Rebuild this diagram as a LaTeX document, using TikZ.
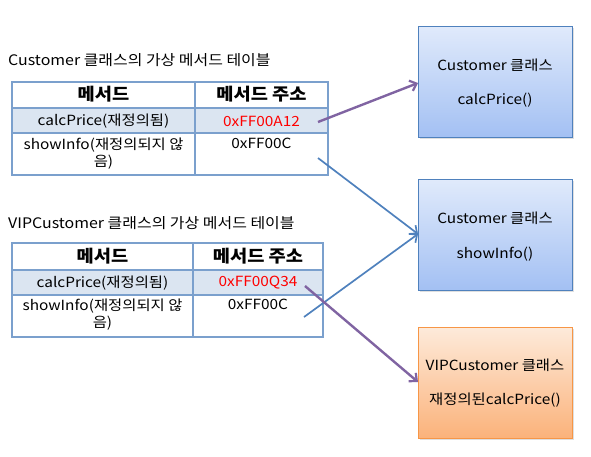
\documentclass[tikz,border=0pt]{standalone}
\usepackage{fontspec}
\setmainfont{Noto Sans CJK KR}[FakeStretch=1.1]
\usetikzlibrary{arrows.meta,shadows}
\definecolor{tblline}{HTML}{7BA0CD}
\definecolor{rowfill}{HTML}{DBE5F1}
\definecolor{purp}{HTML}{8064A2}
\definecolor{blu}{HTML}{4F81BD}
\definecolor{bluetop}{HTML}{E0EAFB}
\definecolor{bluebot}{HTML}{A3C0F3}
\definecolor{orgtop}{HTML}{FDEADA}
\definecolor{orgbot}{HTML}{FBB27A}
\definecolor{orgline}{HTML}{F79646}
\definecolor{redtxt}{HTML}{FF0000}
\tikzset{
  cell/.style={draw=tblline, line width=1.2pt, anchor=north west, inner sep=0pt, outer sep=0pt},
  title/.style={anchor=west, inner sep=0pt, font=\fontsize{14.5}{16}\selectfont},
  hdr/.style={inner sep=0pt, font=\fontsize{17}{18}\selectfont\bfseries},
  txt/.style={inner sep=0pt, font=\fontsize{14}{17}\selectfont},
  btxt/.style={inner sep=0pt, font=\fontsize{14}{17}\selectfont},
  classbox/.style={draw=blu, line width=0.8pt, anchor=north west, inner sep=0pt,
    minimum width=154pt, minimum height=111pt, top color=bluetop, bottom color=bluebot,
    drop shadow={opacity=0.25, shadow xshift=1.5pt, shadow yshift=-1.5pt}},
  vipbox/.style={classbox, draw=orgline, top color=orgtop, bottom color=orgbot},
  parrow/.style={draw=purp, line width=2.4pt, -{Straight Barb[length=6pt,width=11pt,line width=2.2pt]}},
  barrow/.style={draw=blu, line width=1.7pt, -{Straight Barb[length=6pt,width=11pt,line width=1.7pt]}}
}
\begin{document}
\begin{tikzpicture}[x=1pt,y=-1pt]
\useasboundingbox (0,0) rectangle (591,456);
% Table 1
\node[title] (t1) at (8,60) {Customer 클래스의 가상 메서드 테이블};
\node[cell, minimum width=183pt, minimum height=26pt] (a11) at (12,82) {};
\node[cell, minimum width=133pt, minimum height=26pt] (a12) at (195,82) {};
\node[cell, fill=rowfill, minimum width=183pt, minimum height=25pt] (a21) at (12,108) {};
\node[cell, fill=rowfill, minimum width=133pt, minimum height=25pt] (a22) at (195,108) {};
\node[cell, minimum width=183pt, minimum height=42pt] (a31) at (12,133) {};
\node[cell, minimum width=133pt, minimum height=42pt] (a32) at (195,133) {};
\node[hdr] (h11) at (103.5,94) {메서드};
\node[hdr] (h12) at (261.5,94) {메서드 주소};
\node[txt] (c21) at (103.5,121) {calcPrice(재정의됨)};
\node[txt, text=redtxt] (c22) at (261.5,121) {0xFF00A12};
\node[txt, anchor=north, align=center] (c31) at (103.5,138) {showInfo(재정의되지 않\\음)};
\node[txt, anchor=north] (c32) at (261.5,138) {0xFF00C};
% Table 2
\node[title] (t2) at (8,223) {VIPCustomer 클래스의 가상 메서드 테이블};
\node[cell, minimum width=181pt, minimum height=27pt] (b11) at (12,243) {};
\node[cell, minimum width=130pt, minimum height=27pt] (b12) at (193,243) {};
\node[cell, fill=rowfill, minimum width=181pt, minimum height=25pt] (b21) at (12,270) {};
\node[cell, fill=rowfill, minimum width=130pt, minimum height=25pt] (b22) at (193,270) {};
\node[cell, minimum width=181pt, minimum height=42pt] (b31) at (12,295) {};
\node[cell, minimum width=130pt, minimum height=42pt] (b32) at (193,295) {};
\node[hdr] (h21) at (102.5,256) {메서드};
\node[hdr] (h22) at (258,256) {메서드 주소};
\node[txt] (d21) at (102.5,283) {calcPrice(재정의됨)};
\node[txt, text=redtxt] (d22) at (258,283) {0xFF00Q34};
\node[txt, anchor=north, align=center] (d31) at (102.5,299) {showInfo(재정의되지 않\\음)};
\node[txt, anchor=north] (d32) at (258,299) {0xFF00C};
% Class boxes
\node[classbox] (k1) at (418,26) {};
\node[btxt] (k1a) at (495,65) {Customer 클래스};
\node[btxt] (k1b) at (495,100) {calcPrice()};
\node[classbox] (k2) at (418,179) {};
\node[btxt] (k2a) at (495,218) {Customer 클래스};
\node[btxt] (k2b) at (495,254) {showInfo()};
\node[vipbox] (k3) at (418,327) {};
\node[btxt] (k3a) at (495,365) {VIPCustomer 클래스};
\node[btxt] (k3b) at (495,400) {재정의된calcPrice()};
% Connectors
\coordinate (s1) at (318,122);
\coordinate (s2) at (318,158);
\coordinate (s3) at (304,317);
\coordinate (s4) at (305,286);
\coordinate (e1) at (k1.west |- 0,83);
\coordinate (e2) at (k2.west |- 0,234);
\coordinate (e4) at (k3.west |- 0,382);
\draw[parrow] (s1) -- (e1);
\draw[barrow] (s2) -- (e2);
\draw[barrow] (s3) -- (e2);
\draw[parrow] (s4) -- (e4);
\end{tikzpicture}
\end{document}
